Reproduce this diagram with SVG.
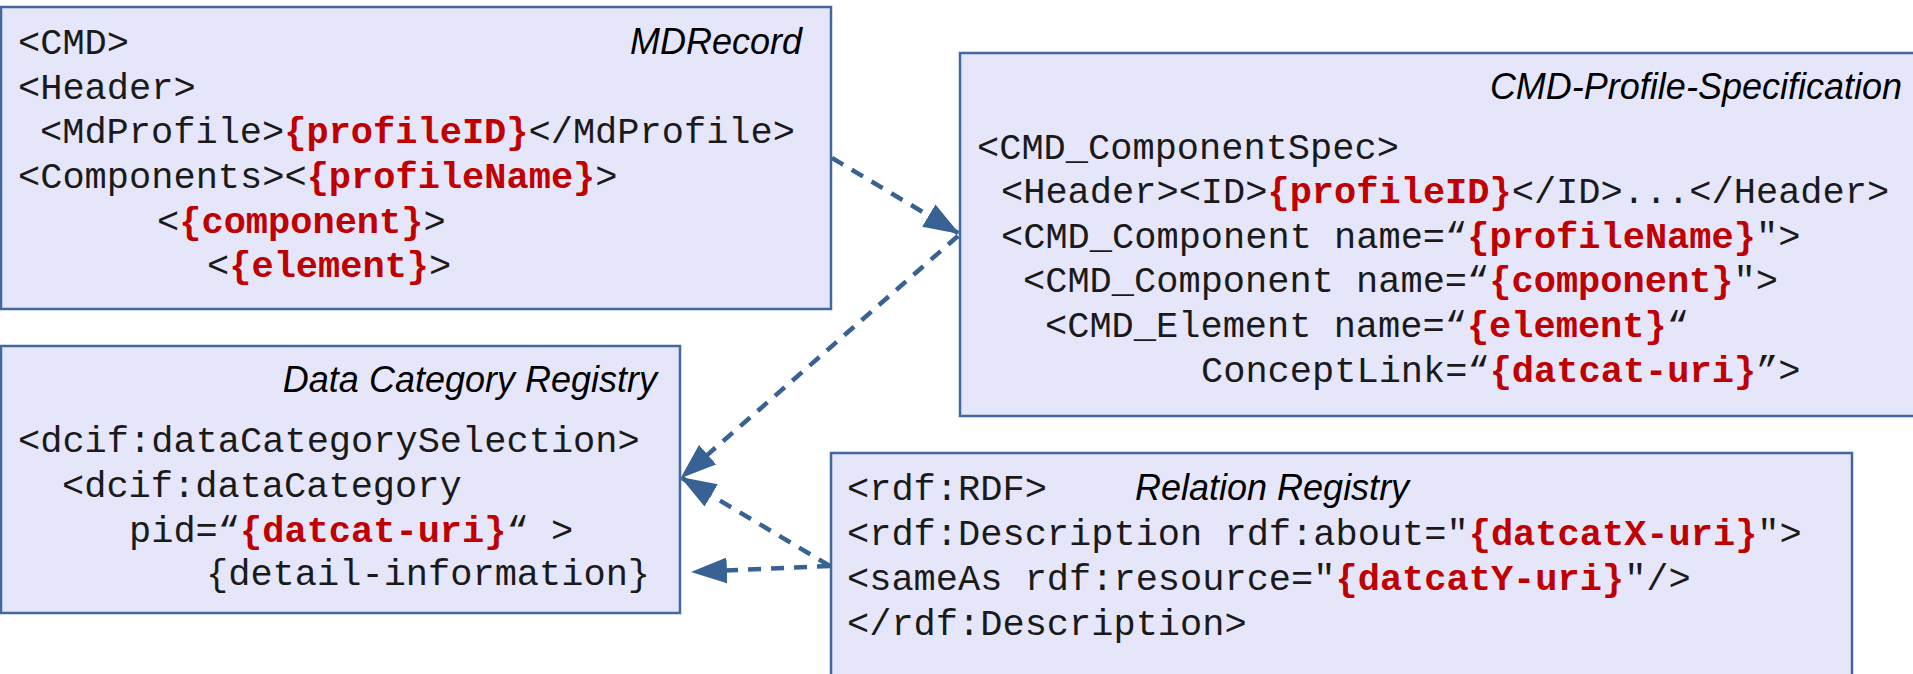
<svg xmlns="http://www.w3.org/2000/svg" width="1913" height="674" viewBox="0 0 1913 674">
  <style>
    .box { fill: #E6E6FA; stroke: #4169A0; stroke-width: 2.5; }
    .code { font-family: "Liberation Mono", "Courier New", monospace; font-size: 37px; fill: #1a1a1a; }
    .var { font-weight: bold; fill: #C00000; }
    .title { font-family: "Liberation Sans", Arial, sans-serif; font-style: italic; font-size: 36px; fill: #000; }
    .link { fill: none; stroke: #386294; stroke-width: 4.5; stroke-dasharray: 13 10; }
  </style>
  <defs>
    <marker id="arrow" markerUnits="userSpaceOnUse" markerWidth="36" markerHeight="26" viewBox="0 0 36 26" refX="34" refY="13" orient="auto">
      <path d="M0,0 L36,13 L0,26 Z" fill="#386294"/>
    </marker>
  </defs>
  <rect width="1913" height="674" fill="#fff"/>

  <g id="mdrecord">
    <rect class="box" x="1" y="7" width="830" height="302"/>
    <text class="title" x="802" y="54" text-anchor="end">MDRecord</text>
    <text class="code" x="18" y="54">&lt;CMD&gt;</text>
    <text class="code" x="18" y="99">&lt;Header&gt;</text>
    <text class="code" x="40" y="143">&lt;MdProfile&gt;<tspan class="var">{profileID}</tspan>&lt;/MdProfile&gt;</text>
    <text class="code" x="18" y="188">&lt;Components&gt;&lt;<tspan class="var">{profileName}</tspan>&gt;</text>
    <text class="code" x="157" y="233">&lt;<tspan class="var">{component}</tspan>&gt;</text>
    <text class="code" x="207" y="277">&lt;<tspan class="var">{element}</tspan>&gt;</text>
  </g>

  <g id="cmd-profile">
    <rect class="box" x="960" y="53" width="970" height="363"/>
    <text class="title" x="1902" y="99" text-anchor="end">CMD-Profile-Specification</text>
    <text class="code" x="977" y="159">&lt;CMD_ComponentSpec&gt;</text>
    <text class="code" x="1001" y="203">&lt;Header&gt;&lt;ID&gt;<tspan class="var">{profileID}</tspan>&lt;/ID&gt;...&lt;/Header&gt;</text>
    <text class="code" x="1001" y="248">&lt;CMD_Component name=“<tspan class="var">{profileName}</tspan>"&gt;</text>
    <text class="code" x="1023" y="292">&lt;CMD_Component name=“<tspan class="var">{component}</tspan>"&gt;</text>
    <text class="code" x="1045" y="337">&lt;CMD_Element name=“<tspan class="var">{element}</tspan>“</text>
    <text class="code" x="1201" y="382">ConceptLink=“<tspan class="var">{datcat-uri}</tspan>”&gt;</text>
  </g>

  <g id="data-category-registry">
    <rect class="box" x="1" y="346" width="679" height="267"/>
    <text class="title" x="657" y="392" text-anchor="end">Data Category Registry</text>
    <text class="code" x="18" y="452">&lt;dcif:dataCategorySelection&gt;</text>
    <text class="code" x="62" y="497">&lt;dcif:dataCategory</text>
    <text class="code" x="129" y="542">pid=“<tspan class="var">{datcat-uri}</tspan>“ &gt;</text>
    <text class="code" x="206" y="585">{detail-information}</text>
  </g>

  <g id="relation-registry">
    <rect class="box" x="831" y="453" width="1021" height="240"/>
    <text class="title" x="1135" y="500">Relation Registry</text>
    <text class="code" x="847" y="500">&lt;rdf:RDF&gt;</text>
    <text class="code" x="847" y="545">&lt;rdf:Description rdf:about="<tspan class="var">{datcatX-uri}</tspan>"&gt;</text>
    <text class="code" x="847" y="590">&lt;sameAs rdf:resource="<tspan class="var">{datcatY-uri}</tspan>"/&gt;</text>
    <text class="code" x="847" y="635">&lt;/rdf:Description&gt;</text>
  </g>

  <g id="connectors">
    <line class="link" x1="832" y1="158" x2="958" y2="233" marker-end="url(#arrow)"/>
    <line class="link" x1="958" y1="236" x2="682" y2="477" marker-end="url(#arrow)"/>
    <line class="link" x1="830" y1="566" x2="682" y2="478" marker-end="url(#arrow)"/>
    <line class="link" x1="830" y1="566" x2="693" y2="572" marker-end="url(#arrow)"/>
  </g>
</svg>
